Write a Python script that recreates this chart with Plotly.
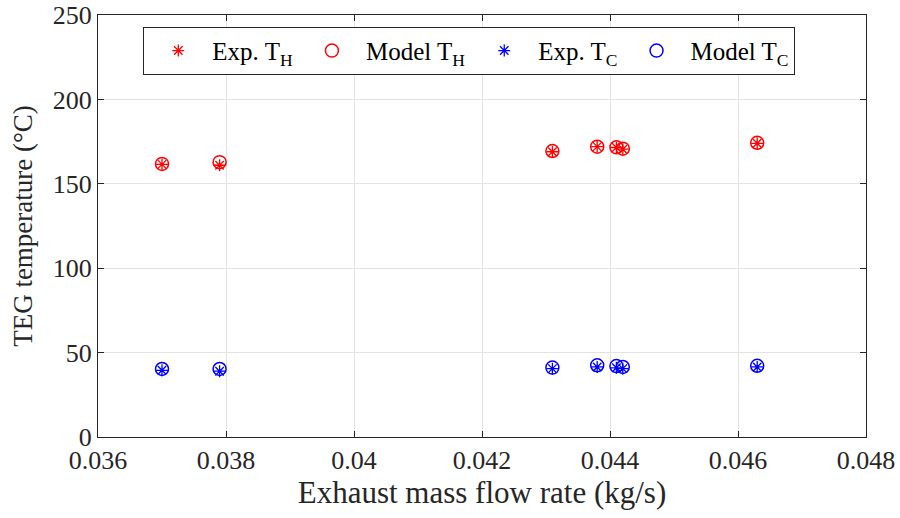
import plotly.graph_objects as go

flow = [0.0370, 0.0379, 0.0431, 0.0438, 0.0441, 0.0442, 0.0463]
exp_th = [161.5, 161.0, 169.0, 172.0, 171.5, 170.5, 174.0]
model_th = [161.8, 162.8, 169.4, 172.0, 171.6, 170.8, 174.3]
exp_tc = [39.5, 39.0, 40.5, 41.5, 41.0, 40.5, 41.5]
model_tc = [40.3, 40.3, 41.1, 42.5, 42.0, 41.5, 42.2]

x_ticks = [0.036, 0.038, 0.040, 0.042, 0.044, 0.046, 0.048]
x_tick_labels = ["0.036", "0.038", "0.04", "0.042", "0.044", "0.046", "0.048"]
y_ticks = [0, 50, 100, 150, 200, 250]

FONT = "Liberation Serif, Times New Roman, serif"
TXT = "#262626"

fig = go.Figure()
fig.add_trace(go.Scatter(x=flow, y=exp_th, mode="markers", name="Exp. T<sub>H</sub>",
                         marker=dict(symbol="asterisk-open", size=10, color="red",
                                     line=dict(color="red", width=1.3))))
fig.add_trace(go.Scatter(x=flow, y=model_th, mode="markers", name="Model T<sub>H</sub>",
                         marker=dict(symbol="circle-open", size=13, color="red",
                                     line=dict(color="red", width=1.5))))
fig.add_trace(go.Scatter(x=flow, y=exp_tc, mode="markers", name="Exp. T<sub>C</sub>",
                         marker=dict(symbol="asterisk-open", size=10, color="blue",
                                     line=dict(color="blue", width=1.3))))
fig.add_trace(go.Scatter(x=flow, y=model_tc, mode="markers", name="Model T<sub>C</sub>",
                         marker=dict(symbol="circle-open", size=13, color="blue",
                                     line=dict(color="blue", width=1.5))))

axis_common = dict(showline=True, linecolor=TXT, linewidth=1, mirror="ticks",
                   ticks="inside", ticklen=6, tickcolor=TXT,
                   showgrid=True, gridcolor="#e3e3e3", gridwidth=1, zeroline=False,
                   tickfont=dict(family=FONT, size=26, color=TXT))

fig.update_layout(
    width=900, height=518,
    margin=dict(l=98, r=34, t=15, b=81, autoexpand=False),
    paper_bgcolor="white", plot_bgcolor="white",
    font=dict(family=FONT, size=24, color=TXT),
    xaxis=dict(range=[0.036, 0.048], tickvals=x_ticks, ticktext=x_tick_labels,
               title=dict(text="Exhaust mass flow rate (kg/s)", font=dict(family=FONT, size=31, color=TXT), standoff=6),
               automargin=False, **axis_common),
    yaxis=dict(range=[0, 250], tickvals=y_ticks,
               title=dict(text="TEG temperature (°C)", font=dict(family=FONT, size=27, color=TXT), standoff=12),
               automargin=False, **axis_common),
    legend=dict(orientation="h", x=0.059, y=0.972, xanchor="left", yanchor="top",
                bgcolor="white", bordercolor=TXT, borderwidth=1,
                font=dict(family=FONT, size=25, color="black"), itemwidth=58),
    showlegend=True,
)

fig.write_html("out.html", config={"displayModeBar": False},
               post_script="document.body.style.margin='0';")
